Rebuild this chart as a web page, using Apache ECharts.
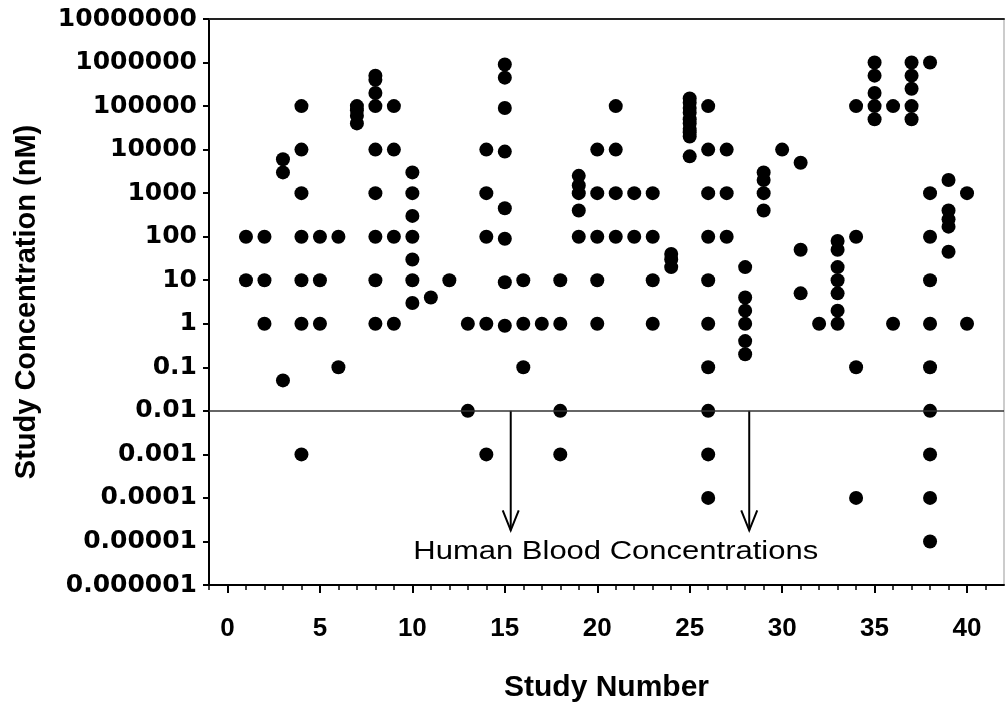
<!DOCTYPE html>
<html>
<head>
<meta charset="utf-8">
<script src="https://cdn.jsdelivr.net/npm/echarts@6/dist/echarts.min.js"></script>
<style>
html,body{margin:0;padding:0;background:#fff;}
#chart{width:1005px;height:702px;}
</style>
</head>
<body>
<div id="chart"></div>
<script>
// ---- data ----
const studyNumbers = [1,2,3,4,5,6,7,8,9,10,11,12,13,14,15,16,17,18,19,20,21,22,23,24,25,26,27,28,29,30,31,32,33,34,35,36,37,38,39,40];
const concentrationsByStudy = [
  [100, 10],
  [100, 10, 1],
  [6000, 3000, 0.05],
  [100000, 10000, 1000, 100, 10, 1, 0.001],
  [100, 10, 1],
  [100, 0.1],
  [100000, 80000, 60000, 40000],
  [500000, 400000, 200000, 100000, 10000, 1000, 100, 10, 1],
  [100000, 10000, 100, 1],
  [3000, 1000, 300, 100, 30, 10, 3],
  [4],
  [10],
  [1, 0.01],
  [10000, 1000, 100, 1, 0.001],
  [900000, 450000, 90000, 9000, 450, 90, 9, 0.9],
  [10, 1, 0.1],
  [1],
  [10, 1, 0.01, 0.001],
  [2500, 1500, 1000, 400, 100],
  [10000, 1000, 100, 10, 1],
  [100000, 10000, 1000, 100],
  [1000, 100],
  [1000, 100, 10, 1],
  [40, 30, 20],
  [150000, 120000, 90000, 70000, 50000, 40000, 30000, 25000, 20000, 7000],
  [100000, 10000, 1000, 100, 10, 1, 0.1, 0.01, 0.001, 0.0001],
  [10000, 1000, 100],
  [20, 4, 2, 1, 0.4, 0.2],
  [3000, 2000, 1000, 400],
  [10000],
  [5000, 50, 5],
  [1],
  [80, 50, 20, 10, 5, 2, 1],
  [100000, 100, 0.1, 0.0001],
  [1000000, 500000, 200000, 100000, 50000],
  [100000, 1],
  [1000000, 500000, 250000, 100000, 50000],
  [1000000, 1000, 100, 10, 1, 0.1, 0.01, 0.001, 0.0001, 0.00001],
  [2000, 400, 250, 170, 45],
  [1000, 1]
];
const xTickValues = [0, 5, 10, 15, 20, 25, 30, 35, 40];
const yTickValues = [1e-6, 1e-5, 1e-4, 1e-3, 1e-2, 1e-1, 1, 10, 100, 1000, 1e4, 1e5, 1e6, 1e7];
const yTickLabels = ['0.000001','0.00001','0.0001','0.001','0.01','0.1','1','10','100','1000','10000','100000','1000000','10000000'];
const bloodLevel = 0.01;
const annotationText = 'Human Blood Concentrations';

// ---- build ----
const points = [];
studyNumbers.forEach((s, i) => {
  concentrationsByStudy[i].forEach(v => points.push([s, v]));
});
const minorTicks = [];
for (let t = -1; t <= 41; t++) minorTicks.push(t);

const chart = echarts.init(document.getElementById('chart'), null, {renderer: 'canvas'});
const boldSans = '"Liberation Sans", Arial, sans-serif';

const option = {
  animation: false,
  backgroundColor: '#fff',
  grid: {
    left: 209, right: 1, top: 19, bottom: 117,
    containLabel: false,
    outerBoundsMode: 'none',
    show: true, borderColor: '#999', borderWidth: 1
  },
  xAxis: [
    {
      type: 'value', min: -1, max: 42, position: 'bottom',
      splitLine: {show: false},
      axisLine: {show: true, onZero: false, lineStyle: {color: '#000', width: 2}},
      axisTick: {show: true, length: 8, customValues: xTickValues, lineStyle: {color: '#000', width: 2}},
      axisLabel: {
        customValues: xTickValues, margin: 31, color: '#000',
        fontFamily: boldSans, fontWeight: 'bold', fontSize: 26
      },
      name: 'Study Number', nameLocation: 'middle', nameGap: 88,
      nameTextStyle: {color: '#000', fontFamily: boldSans, fontWeight: 'bold', fontSize: 30}
    },
    {
      type: 'value', min: -1, max: 42, position: 'bottom',
      splitLine: {show: false},
      axisLine: {show: false, onZero: false},
      axisTick: {show: true, length: 5, customValues: minorTicks, lineStyle: {color: '#000', width: 1.5}},
      axisLabel: {show: false}
    },
    {
      type: 'value', min: -1, max: 42, position: 'top',
      splitLine: {show: false},
      axisLine: {show: true, onZero: false, lineStyle: {color: '#222', width: 2}},
      axisTick: {show: false},
      axisLabel: {show: false}
    }
  ],
  yAxis: [
    {
      type: 'log', logBase: 10, min: 1e-6, max: 1e7, interval: 1,
      splitLine: {show: false},
      axisLine: {show: true, onZero: false, lineStyle: {color: '#000', width: 2}},
      axisTick: {show: true, length: 6, customValues: yTickValues, lineStyle: {color: '#000', width: 2}},
      axisLabel: {
        customValues: yTickValues, margin: 12, color: '#000',
        fontFamily: '"DejaVu Sans", sans-serif', fontWeight: 'bold', fontSize: 25,
        formatter: function (v) {
          const e = Math.round(Math.log10(v));
          return yTickLabels[e + 6];
        }
      },
      name: 'Study Concentration (nM)', nameLocation: 'middle', nameGap: 168,
      nameTextStyle: {color: '#000', fontFamily: boldSans, fontWeight: 'bold', fontSize: 29}
    }
  ],
  series: [
    {
      type: 'scatter',
      xAxisIndex: 0, yAxisIndex: 0,
      data: points,
      symbol: 'circle', symbolSize: 14,
      itemStyle: {color: '#000', opacity: 1},
      silent: true,
      markLine: {
        silent: true, symbol: ['none', 'none'],
        label: {show: false},
        lineStyle: {color: '#333', width: 1.5, type: 'solid'},
        data: [{yAxis: bloodLevel}]
      },
      z: 3
    },
    {
      type: 'custom',
      xAxisIndex: 0, yAxisIndex: 0,
      silent: true,
      data: [[15.32, bloodLevel, 1.8e-5], [28.22, bloodLevel, 1.8e-5]],
      encode: {x: 0, y: [1, 2]},
      renderItem: function (params, api) {
        const top = api.coord([api.value(0), api.value(1)]);
        const tip = api.coord([api.value(0), api.value(2)]);
        const st = {stroke: '#000', lineWidth: 2, fill: null};
        return {
          type: 'group',
          children: [
            {type: 'line', shape: {x1: top[0], y1: top[1], x2: tip[0], y2: tip[1]}, style: st},
            {type: 'polyline', shape: {points: [[tip[0] - 8, tip[1] - 20], [tip[0], tip[1]], [tip[0] + 8, tip[1] - 20]]}, style: st}
          ]
        };
      },
      z: 4
    },
    {
      type: 'custom',
      xAxisIndex: 0, yAxisIndex: 0,
      silent: true,
      data: [[21.0, 5.6e-6]],
      renderItem: function (params, api) {
        const p = api.coord([api.value(0), api.value(1)]);
        return {
          type: 'text', x: p[0], y: p[1], scaleX: 1.24,
          style: {
            text: annotationText, fill: '#000',
            font: '25px "Liberation Sans", Arial, sans-serif',
            align: 'center', verticalAlign: 'middle'
          }
        };
      },
      z: 4
    }
  ]
};
chart.setOption(option);
</script>
</body>
</html>
